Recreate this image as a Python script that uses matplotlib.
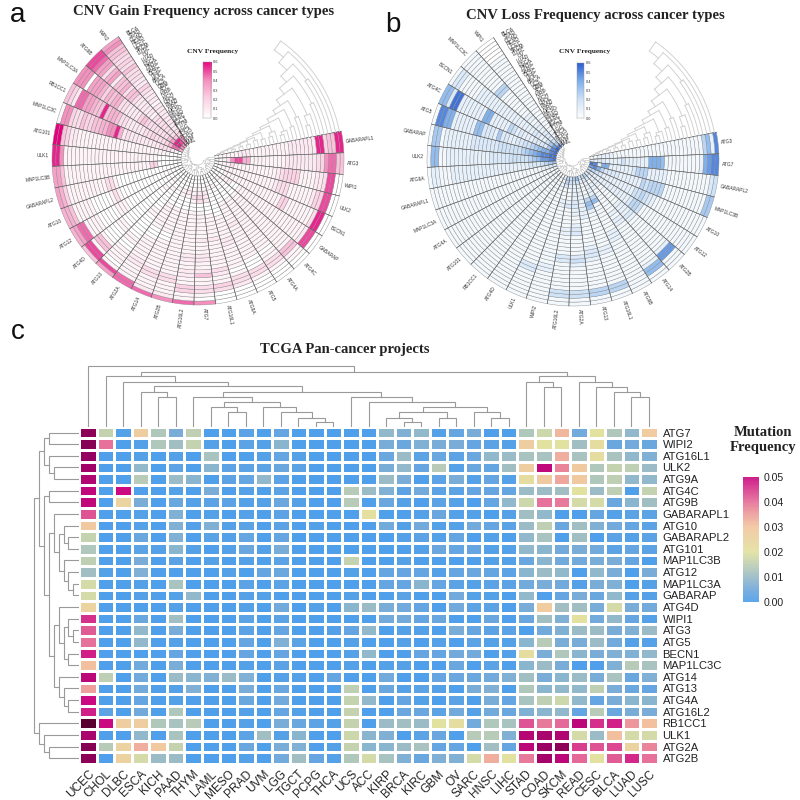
import numpy as np
import matplotlib
matplotlib.use('Agg')
import matplotlib.pyplot as plt
from matplotlib.colors import LinearSegmentedColormap, Normalize

# ---------- panel c data ----------
cancers = ['UCEC','CHOL','DLBC','ESCA','KICH','PAAD','THYM','LAML','MESO','PRAD','UVM','LGG','TGCT','PCPG','THCA','UCS','ACC',
           'KIRP','BRCA','KIRC','GBM','OV','SARC','HNSC','LIHC','STAD','COAD','SKCM','READ','CESC','BLCA','LUAD','LUSC']
mut_genes = ['ATG7','WIPI2','ATG16L1','ULK2','ATG9A','ATG4C','ATG9B','GABARAPL1','ATG10','GABARAPL2','ATG101','MAP1LC3B','ATG12',
             'MAP1LC3A','GABARAP','ATG4D','WIPI1','ATG3','ATG5','BECN1','MAP1LC3C','ATG14','ATG13','ATG4A','ATG16L2','RB1CC1','ULK1','ATG2A','ATG2B']
# mutation frequency x 1000
mut_freq = [
 [62,16,1,27,13,6,15,0,0,2,0,3,0,0,0,0,0,9,7,9,1,3,6,0,0,13,17,32,5,20,13,9,28],
 [63,40,0,1,13,11,16,1,0,2,1,8,0,0,0,0,0,6,4,7,6,6,3,2,1,27,20,20,11,22,4,5,4],
 [60,0,0,1,0,1,0,12,0,0,1,3,1,0,0,0,0,4,10,2,4,2,4,9,10,12,12,33,12,22,12,9,7],
 [58,0,0,9,0,2,0,8,2,2,2,4,2,0,0,0,0,6,9,3,14,1,4,3,11,27,52,38,29,13,16,15,10],
 [55,0,0,14,0,10,8,0,2,3,9,2,0,0,0,0,0,10,6,0,2,6,1,3,1,22,29,34,29,13,15,9,9],
 [52,0,50,0,0,1,0,6,0,1,0,2,0,0,0,14,10,7,2,5,2,2,3,3,3,10,10,11,20,10,15,0,16],
 [52,0,25,6,0,4,1,2,2,1,1,4,1,0,0,14,0,4,1,0,2,1,0,3,9,17,40,39,18,18,4,8,11],
 [43,0,0,1,0,7,0,1,0,1,0,2,0,0,0,0,21,0,0,1,4,1,1,0,1,11,9,0,0,3,1,2,2],
 [29,0,0,1,0,7,1,7,1,2,0,2,0,1,0,0,0,5,1,5,1,1,5,3,2,10,15,4,11,7,5,3,2],
 [16,0,0,4,0,7,0,2,1,3,0,3,0,0,0,0,0,0,1,2,1,3,0,1,0,9,12,0,11,0,2,1,2],
 [13,0,0,2,1,8,1,0,1,4,1,6,0,0,0,0,0,0,0,1,4,3,3,1,1,9,8,5,6,5,2,3,2],
 [15,0,0,6,0,2,0,1,0,1,0,2,0,0,0,16,0,0,1,0,0,0,0,1,1,4,8,5,5,6,6,3,0],
 [11,1,0,7,0,0,0,0,1,0,3,4,0,0,0,1,0,3,3,3,1,3,4,3,2,8,10,9,0,9,6,0,6],
 [18,0,0,1,0,12,0,0,0,2,0,2,0,0,0,0,0,3,3,8,3,2,1,2,2,5,6,5,1,6,7,0,1],
 [18,0,0,1,0,1,9,0,0,1,1,0,0,0,0,1,0,0,2,0,0,5,1,1,0,9,0,3,6,4,9,1,1],
 [25,0,0,0,0,1,0,0,0,1,0,5,0,1,0,8,10,6,5,3,0,5,2,2,0,6,28,11,11,6,18,6,5],
 [46,0,0,4,0,11,0,0,0,2,0,2,0,0,0,0,0,5,5,3,4,0,0,4,0,4,11,7,21,5,9,3,1],
 [42,0,0,9,0,6,0,0,0,2,0,3,0,0,1,3,9,0,1,1,0,6,3,2,2,0,5,7,10,10,6,7,10],
 [40,0,0,9,0,1,0,0,0,3,0,7,2,0,0,1,0,0,1,0,1,0,2,1,1,8,14,6,6,10,5,1,1],
 [48,0,0,0,0,3,0,0,0,3,0,3,0,0,0,1,9,0,0,3,3,5,5,0,1,22,6,13,8,6,7,7,9],
 [31,0,0,5,0,6,0,0,0,1,0,2,0,0,0,1,0,1,1,0,0,4,0,2,0,8,10,6,0,0,7,14,12],
 [53,15,0,5,0,10,8,7,10,7,0,1,1,0,3,0,0,5,0,0,3,4,4,5,7,11,6,8,10,6,12,4,7],
 [35,0,0,5,0,1,7,0,0,6,0,4,0,0,0,15,0,4,1,2,1,0,6,7,0,13,8,9,9,15,6,4,3],
 [50,0,0,3,0,1,0,0,0,4,0,5,0,0,0,16,9,0,3,1,0,2,0,6,3,12,15,17,9,3,6,8,8],
 [48,2,0,5,0,13,0,0,0,1,0,3,1,0,0,16,0,0,4,4,2,5,1,5,4,7,8,9,3,14,4,6,6],
 [72,50,27,27,13,12,14,0,0,1,0,6,4,2,1,16,0,10,11,10,20,22,5,13,12,43,39,41,53,46,48,36,31],
 [56,0,0,9,0,12,0,0,0,2,11,1,8,0,0,17,8,7,0,2,4,0,14,14,7,54,56,55,18,10,31,18,18],
 [63,14,26,33,29,16,0,0,0,4,0,6,7,0,1,16,8,8,10,12,3,3,0,11,3,53,59,62,45,43,44,26,38],
 [62,0,26,18,10,10,0,0,0,1,0,5,11,3,1,13,18,12,7,4,7,7,18,33,20,39,57,53,41,21,42,47,40],
]
# dendrograms: (height, child, child); leaves are column / row indices
col_a = (35, 3, (30, 4, 5))
col_b1 = (30, 6, (25, (20, 7, (15, 8, 9)), (20, 10, (15, 11, (9, 12, (5, 13, 14))))))
col_b2 = (30, 15, (25, 16, (20, (15, (9, 17, (5, 18, 19)), (9, 20, 21)), (15, 22, (9, 23, 24)))))
col_left = (51, 1, (45, 2, (41, col_a, (35, col_b1, col_b2))))
col_right = (51, (45, 25, (40, 26, 27)), (45, 28, (40, 29, (35, 30, (30, 31, 32)))))
col_tree = (61, 0, (55, col_left, col_right))

row_x = (25, 7, (20, (15, 8, (11, 9, 10)), (15, 11, (11, 12, (6, 13, 14)))))
row_y = (25, (20, 15, (15, (11, 16, (6, 17, 18)), (11, 19, 20))), (20, 21, (15, 22, (11, 23, 24))))
row_top = (40, (35, (30, 0, 1), (30, 2, (25, 3, 4))), (35, (30, 5, 6), (30, row_x, row_y)))
row_tree = (45, row_top, (40, 25, (35, 26, (30, 27, 28))))

# ---------- panels a / b data (33 rings, outer to inner; units of 0.05) ----------
gain_genes = ['GABARAPL1','ATG3','WIPI1','ULK2','BECN1','GABARAP','ATG4C','ATG4A','ATG5','ATG9A','ATG16L1','ATG7','ATG16L2','ATG2B','ATG14',
              'ATG2A','ATG13','ATG4D','ATG12','ATG10','GABARAPL2','MAP1LC3B','ULK1','ATG101','MAP1LC3C','RB1CC1','MAP1LC3A','ATG9B','WIPI2']
loss_genes = ['ATG3','ATG7','GABARAPL2','MAP1LC3B','ATG10','ATG12','ATG2B','ATG14','ATG9B','ATG16L1','ATG13','ATG2A','ATG16L2','WIPI2','ULK1',
              'ATG4D','RB1CC1','ATG101','ATG4A','MAP1LC3A','GABARAPL1','ATG9A','ULK2','GABARAP','ATG5','ATG4C','BECN1','MAP1LC3C','WIPI1']
gain_freq = [
 [11,11,5,5,4,11,11,2,2,2,2,2,2,2,1,1,1,1,1,1,1,1,1,1,2,2,2,1,1,1,1,0,0],
 [5,5,9,9,8,4,3,2,2,2,2,2,2,2,2,1,1,1,1,1,1,1,1,1,6,6,10,10,8,3,1,1,0],
 [0,0,10,10,3,2,2,1,1,1,1,4,4,4,4,3,2,1,1,1,1,1,1,1,1,1,1,1,3,1,1,1,0],
 [0,0,10,10,4,4,2,1,1,1,1,1,1,3,3,3,2,1,1,1,1,1,1,1,1,1,1,1,1,1,1,0,0],
 [0,0,11,11,3,1,1,1,1,1,1,1,4,4,1,1,1,1,1,1,1,1,1,1,1,1,1,1,1,1,0,0,0],
 [0,0,10,10,2,1,1,1,1,1,1,1,1,1,1,1,1,1,1,1,1,1,1,1,1,0,0,2,1,1,0,0,0],
 [0,0,1,1,5,5,1,1,1,1,1,1,1,1,1,1,1,1,1,1,1,1,1,1,1,0,0,0,0,0,1,0,0],
 [0,0,0,1,3,3,1,1,0,1,1,1,1,1,1,1,1,1,1,1,1,1,1,1,1,0,0,0,0,0,1,0,0],
 [0,0,0,1,3,3,0,0,0,1,1,1,1,1,1,1,1,1,2,1,1,1,1,1,1,0,0,0,0,1,0,0,0],
 [0,0,0,2,3,3,1,0,1,1,1,1,1,1,2,2,1,1,1,1,1,1,0,0,0,0,0,0,0,1,0,0,0],
 [0,0,0,3,4,1,1,2,3,1,1,1,1,1,1,1,2,1,1,1,1,1,1,0,0,0,2,2,2,1,0,0,0],
 [8,0,1,3,3,1,1,5,2,1,1,2,2,1,1,1,2,1,1,1,1,1,1,1,0,0,3,4,2,1,1,0,0],
 [9,1,1,4,4,1,1,2,2,1,1,2,2,1,1,1,1,1,1,1,1,1,1,1,0,0,1,3,1,1,0,0,0],
 [8,2,1,1,1,3,3,1,1,1,1,1,1,1,1,1,1,1,1,1,1,1,1,1,0,0,0,1,2,1,0,0,0],
 [9,2,1,1,1,3,3,1,1,1,1,1,1,1,1,0,0,1,1,1,1,1,1,1,0,0,0,1,1,0,0,0,0],
 [9,9,1,1,1,1,2,2,1,1,1,1,1,1,0,0,0,1,1,1,1,1,1,1,0,0,0,0,1,0,0,0,0],
 [7,10,1,0,1,1,1,1,0,0,1,1,0,0,0,0,0,0,0,1,1,0,0,0,0,0,0,1,0,0,0,0,0],
 [5,10,10,1,5,5,1,0,0,0,0,1,1,0,0,0,0,0,0,0,0,0,0,0,0,0,1,0,0,1,0,0,0],
 [6,7,9,9,1,1,1,1,0,0,0,0,0,1,1,1,0,0,0,0,0,0,0,0,0,0,0,0,0,0,0,0,0],
 [6,6,5,1,1,1,1,1,0,0,0,0,0,1,3,1,0,0,0,0,0,0,0,0,0,0,0,0,0,1,0,0,0],
 [7,6,4,1,1,1,1,1,1,1,1,1,1,3,3,1,0,0,0,0,0,0,0,0,0,0,0,0,0,0,0,0,0],
 [7,7,5,1,1,1,1,1,1,1,1,1,1,1,1,1,1,1,1,1,1,1,1,1,1,4,4,0,0,0,0,0,0],
 [11,11,8,1,1,1,1,1,1,1,1,1,1,1,1,1,1,1,1,1,1,1,1,1,1,1,1,0,0,0,0,0,0],
 [12,12,5,4,2,2,1,1,1,1,1,1,1,1,1,1,1,1,1,1,1,1,1,1,1,1,1,1,1,1,0,0,0],
 [1,8,8,4,3,3,5,4,4,5,5,6,6,8,8,11,6,2,3,2,2,2,2,2,2,2,2,3,3,3,2,1,0],
 [5,4,2,9,9,7,7,6,5,5,11,5,6,6,5,3,3,2,2,2,2,2,3,3,4,3,3,3,4,6,9,9,6],
 [8,8,8,0,7,7,7,6,4,6,5,6,6,3,3,2,2,2,2,4,5,4,3,3,3,3,3,3,5,7,11,11,8],
 [10,10,9,7,7,3,6,7,2,5,5,6,3,5,5,3,2,2,2,2,2,1,3,3,3,3,3,3,3,5,11,10,7],
 [7,8,5,5,4,3,4,3,5,3,3,3,2,2,4,3,2,2,2,1,2,2,2,2,2,2,2,2,3,4,7,8,5],
]
loss_freq = [
 [10,2,7,5,1,1,1,1,1,1,1,1,1,1,1,1,1,1,1,1,1,1,1,1,1,1,1,2,2,2,2,1,1],
 [10,10,9,8,2,1,1,1,1,1,1,1,1,1,7,8,8,8,2,2,2,2,2,2,4,2,2,2,2,3,3,2,2],
 [4,3,1,1,1,1,1,1,1,1,1,1,1,2,2,2,2,2,5,5,5,3,2,2,2,2,2,2,8,8,2,10,11],
 [6,6,1,1,1,1,1,1,1,1,1,1,1,5,5,5,5,4,5,2,2,2,2,2,2,3,3,3,3,5,8,10,9],
 [1,1,1,1,1,1,1,1,1,1,1,1,1,1,2,3,4,5,4,4,2,2,2,2,2,2,2,2,2,3,4,5,5],
 [1,1,1,1,1,1,1,1,1,1,1,1,1,1,1,1,4,5,5,3,2,2,2,2,2,2,2,2,2,2,2,3,4],
 [1,1,1,9,9,2,1,1,1,1,1,1,1,1,1,1,2,3,2,2,2,2,1,1,1,1,1,1,2,2,2,2,3],
 [1,1,7,7,2,1,1,1,1,1,1,1,1,1,1,1,1,2,2,1,2,1,1,1,1,1,1,1,2,2,1,3,5],
 [1,1,1,1,1,1,1,1,1,1,1,1,1,1,2,2,2,1,1,1,1,1,1,1,1,7,5,2,2,2,2,3,5],
 [1,1,5,5,1,1,1,1,1,1,1,1,2,2,1,1,1,1,1,1,1,1,1,2,6,7,5,2,1,1,1,2,3],
 [1,1,5,5,1,1,1,1,1,1,1,2,3,3,2,1,1,1,1,1,1,1,2,2,2,2,2,2,2,2,2,4,7],
 [1,1,4,4,1,1,1,1,1,1,2,4,3,1,1,1,1,1,3,3,2,1,1,2,2,3,3,2,2,2,2,4,6],
 [1,1,4,4,1,1,1,1,1,1,1,3,3,1,1,1,1,1,2,2,1,1,1,1,1,3,2,1,1,1,2,4,4],
 [1,1,1,1,1,1,1,1,2,2,1,1,1,1,1,1,1,1,1,1,1,1,1,1,1,2,2,1,1,1,3,5,5],
 [1,1,1,1,1,1,1,3,3,1,1,1,1,1,1,1,1,1,1,1,1,1,1,1,1,1,1,1,1,1,2,2,2],
 [1,1,1,1,1,1,1,1,1,1,1,1,1,1,1,1,1,1,1,1,1,1,1,1,1,1,1,1,1,1,1,1,1],
 [1,1,1,1,1,1,1,1,1,1,1,1,1,1,1,1,1,1,1,1,1,1,1,1,1,1,1,1,1,1,1,1,1],
 [1,1,1,1,1,1,1,1,1,1,1,1,1,1,1,1,1,1,1,1,1,1,1,1,1,1,1,1,1,1,1,1,1],
 [1,1,1,1,1,1,1,1,1,1,1,1,1,1,1,1,1,1,1,1,1,1,1,1,1,1,1,1,1,1,1,1,1],
 [1,1,1,1,1,1,1,1,1,1,1,1,1,1,1,1,1,1,1,1,1,1,1,1,1,1,1,1,1,1,1,1,2],
 [1,1,1,1,1,1,1,1,1,1,1,1,1,1,1,1,1,1,1,1,1,1,1,1,1,1,1,1,1,2,2,3,3],
 [1,2,2,1,1,1,2,2,2,2,2,2,2,2,2,2,2,2,2,2,2,2,2,2,2,2,3,3,3,4,5,6,7],
 [1,7,7,1,1,2,2,2,2,2,2,2,2,2,2,2,3,3,3,3,3,4,4,4,4,4,5,6,7,9,9,10,11],
 [1,6,6,1,2,2,2,2,2,2,2,3,3,3,3,3,3,3,4,4,4,4,4,4,5,6,7,8,9,10,10,11,11],
 [1,10,10,8,8,2,2,2,2,2,2,7,7,3,3,3,2,6,3,3,2,2,3,3,4,4,5,6,7,8,8,10,11],
 [7,7,3,11,11,2,2,2,2,2,2,2,8,8,2,2,2,2,2,5,4,2,3,2,2,2,3,3,3,3,6,10,11],
 [1,3,3,1,1,1,1,1,2,2,2,2,2,2,2,2,2,2,2,2,2,2,2,2,2,3,3,2,2,4,6,9,12],
 [1,1,1,1,1,1,1,1,1,1,1,5,5,1,1,1,1,1,1,1,1,2,2,1,2,2,2,3,3,3,4,6,10],
 [0,0,0,0,0,1,1,1,1,1,1,1,1,1,1,1,1,1,1,1,1,1,1,1,1,1,1,1,1,1,2,3,6],
]
ring_cancers = ['BLCA','STAD','COAD','READ','UCEC','SKCM','LUSC','OV','LUAD','ESCA','HNSC','SARC','CESC','LIHC','BRCA','UCS','GBM',
                'ACC','KIRP','KICH','CHOL','PAAD','KIRC','MESO','PRAD','DLBC','TGCT','THYM','LGG','THCA','PCPG','UVM','LAML']
# dendrogram over rings; height in degrees beyond the last sector edge
ring_t1 = (8, (5, 25, 26), (7, (4, 27, 28), (6, 29, (4, 30, (3, 31, 32)))))
ring_t2 = (14, (9, 16, (6, 17, 18)), (12, (6, 19, 20), (10, (7, 21, 22), (9, (5, 23, 24), ring_t1))))
ring_t3 = (26, (11, 6, (6, 7, 8)), (22, (12, 9, 10), (19, (8, 11, 12), (16, (7, 13, (5, 14, 15)), ring_t2))))
ring_tree = (44, 0, (39, 1, (34, (25, 2, 3), (30, (15, 4, 5), ring_t3))))
gene_g1 = (9, (7, 0, (5, 1, 2)), (7, (5, 3, 4), (6, 5, (4, 6, 7))))
gene_g2 = (8, (6, 8, (4, 9, 10)), (6, (4, 11, 12), (5, 13, 14)))
gene_g3 = (7, (5, 15, 16), (5, 17, (3, 18, 19)))
gene_g4 = (7, (6, 20, (4, 21, 22)), (6, (4, 23, 24), (5, 25, (4, 26, (3, 27, 28)))))
gene_tree = (11, gene_g1, (10, gene_g2, (9, gene_g3, gene_g4)))
cbar_ticks = [0.0, 0.1, 0.2, 0.3, 0.4, 0.5, 0.6]
mut_ticks = [0.00, 0.01, 0.02, 0.03, 0.04, 0.05]

# ---------- style ----------
sans = ['Liberation Sans', 'DejaVu Sans']
serif = ['Liberation Serif', 'DejaVu Serif']
W = 800.0
fig = plt.figure(figsize=(8, 8), dpi=100, facecolor='white')

def rect(x0, y0, x1, y1):
    return [x0 / W, 1 - y1 / W, (x1 - x0) / W, (y1 - y0) / W]

def draw_tree(node, emit):
    """Return (position, height); emit(pos_a, h_a, pos_b, h_b, h) draws one link."""
    if not isinstance(node, tuple):
        return node + 0.5, 0.0
    h, a, b = node
    pa, ha = draw_tree(a, emit)
    pb, hb = draw_tree(b, emit)
    emit(pa, ha, pb, hb, h)
    return (pa + pb) / 2, h

# ---------- circular panels ----------
SPAN_START = 11.0
SPAN_END = 123.0
N_S = 29
N_R = 33
R_OUT = 146.0
R_IN = 17.0
R_AX = 178.0
SEC = (360 - (SPAN_END - SPAN_START)) / N_S
RW = (R_OUT - R_IN) / N_R

def circular(cx, cy, genes, freq, cmap, fsz=3.5):
    ax = fig.add_axes(rect(cx - R_AX, cy - R_AX, cx + R_AX, cy + R_AX), projection='polar')
    ax.set_facecolor('none')
    ax.set_axis_off()
    ax.set_ylim(0, R_AX)
    norm = Normalize(0, 0.6)
    for s, row in enumerate(freq):
        th = np.deg2rad(SPAN_START - (s + 0.5) * SEC)
        vals = (list(row) + [1] * N_R)[:N_R]
        for r, v in enumerate(vals):
            ax.bar(th, RW, width=np.deg2rad(SEC), bottom=R_OUT - (r + 1) * RW,
                   color=cmap(norm(v * 0.05)), edgecolor='#8c8c8c', linewidth=0.3)
        a = SPAN_START - (s + 0.5) * SEC
        a360 = a % 360
        right = np.cos(np.deg2rad(a)) > 0
        ax.text(np.deg2rad(a), R_OUT + 3, genes[s], fontsize=fsz, family=sans, color='#333333',
                rotation=a360 if right else a360 + 180, rotation_mode='anchor',
                ha='left' if right else 'right', va='center')
    # sector edges slightly stronger
    for s in range(N_S + 1):
        t = np.deg2rad(SPAN_START - s * SEC)
        ax.plot([t, t], [R_IN, R_OUT], color='#555555', lw=0.4)
    # ring dendrogram in the open sector
    col = '#cfcfcf'
    def ring_r(p):
        return R_OUT - p * RW
    def emit(pa, ha, pb, hb, h):
        ta = np.deg2rad(SPAN_START + h)
        for p, hc in ((pa, ha), (pb, hb)):
            arc = np.deg2rad(np.linspace(SPAN_START + hc, SPAN_START + h, 24))
            ax.plot(arc, np.full(24, ring_r(p)), color=col, lw=0.65)
        ax.plot([ta, ta], [ring_r(pa), ring_r(pb)], color=col, lw=0.65)
    draw_tree(ring_tree, emit)
    # gene dendrogram in the hub
    def gene_t(p):
        return np.deg2rad(SPAN_START - p * SEC)
    def emit2(pa, ha, pb, hb, h):
        rr = R_IN - h
        for p, hc in ((pa, ha), (pb, hb)):
            ax.plot([gene_t(p), gene_t(p)], [R_IN - hc, rr], color='#bdbdbd', lw=0.45)
        arc = np.linspace(gene_t(pa), gene_t(pb), 24)
        ax.plot(arc, np.full(24, rr), color='#bdbdbd', lw=0.45)
    draw_tree(gene_tree, emit2)
    # cancer labels
    for r, name in enumerate(ring_cancers):
        rr = R_OUT - (r + 0.5) * RW
        ang = 117.0 - r * 0.1
        ax.text(np.deg2rad(ang), rr, name, fontsize=3.7, family=sans, color='#222222',
                rotation=ang - 90, rotation_mode='anchor', ha='center', va='center')
    return ax

cmap_gain = LinearSegmentedColormap.from_list('gain', ['#ffffff', '#fbd3e4', '#f48fbe', '#e6007e'])
cmap_loss = LinearSegmentedColormap.from_list('loss', ['#ffffff', '#cfe3f8', '#7fb0ec', '#2c5fd0'])
circular(198, 159, gain_genes, gain_freq, cmap_gain)
circular(573, 160, loss_genes, loss_freq, cmap_loss)

def small_cbar(x0, y0, x1, y1, cmap):
    cax = fig.add_axes(rect(x0, y0, x1, y1))
    cax.imshow(np.linspace(0.6, 0, 200)[:, None], aspect='auto', cmap=cmap, vmin=0, vmax=0.6, extent=[0, 1, 0, 0.6])
    cax.set_xticks([])
    cax.yaxis.tick_right()
    cax.set_yticks(cbar_ticks, [f'{t:.1f}' for t in cbar_ticks], fontsize=2.8, family=sans, color='#333333')
    cax.tick_params(axis='y', length=0, pad=1.5)
    for sp in cax.spines.values():
        sp.set_linewidth(0.3)
        sp.set_color('#999999')

small_cbar(203, 62, 211, 118, cmap_gain)
small_cbar(577, 63, 584, 118, cmap_loss)

def ftext(x, y, s, **kw):
    fig.text(x / W, 1 - y / W, s, **kw)

ftext(204, 12, 'CNV Gain Frequency across cancer types', family=serif, weight='bold', fontsize=10.6, ha='center', va='center', color='#222222')
ftext(595, 15, 'CNV Loss Frequency across cancer types', family=serif, weight='bold', fontsize=10.6, ha='center', va='center', color='#222222')
ftext(345, 350, 'TCGA Pan-cancer projects', family=serif, weight='bold', fontsize=10.5, ha='center', va='center', color='#222222')
ftext(213, 52, 'CNV Frequency', family=serif, weight='bold', fontsize=5.3, ha='center', va='center', color='#222222')
ftext(585, 51, 'CNV Frequency', family=serif, weight='bold', fontsize=5.3, ha='center', va='center', color='#222222')
ftext(18, 15, 'a', family=sans, fontsize=20, ha='center', va='center', color='#111111')
ftext(393, 25, 'b', family=sans, fontsize=20, ha='center', va='center', color='#111111')
ftext(18, 332, 'c', family=sans, fontsize=20, ha='center', va='center', color='#111111')

# ---------- heatmap ----------
HX0, HX1, HY0, HY1 = 79.3, 657.7, 426.7, 764.0
stops = [(0, '#4f9fea'), (5, '#72aadc'), (10, '#9bbcc6'), (15, '#bfcfb4'), (20, '#e2e2a0'), (30, '#f3c6a0'),
         (35, '#ee9f9c'), (40, '#e6719a'), (50, '#cb0a82'), (60, '#960060'), (75, '#4a0025')]
cmap_mut = LinearSegmentedColormap.from_list('mut', [(v / 75, c) for v, c in stops])
Z = np.array(mut_freq, dtype=float) / 1000
ax = fig.add_axes(rect(HX0, HY0, HX1, HY1))
ax.pcolormesh(np.arange(len(cancers) + 1), np.arange(len(mut_genes) + 1), Z, cmap=cmap_mut, vmin=0, vmax=0.075,
              edgecolors='white', linewidth=0.9)
ax.set_ylim(len(mut_genes), 0)
ax.set_xlim(0, len(cancers))
ax.set_xticks(np.arange(len(cancers)) + 0.5, cancers, rotation=45, ha='right', va='top', rotation_mode='anchor',
              fontsize=8.6, family=sans, color='#222222')
ax.yaxis.tick_right()
ax.set_yticks(np.arange(len(mut_genes)) + 0.5, mut_genes, fontsize=8.1, family=sans, color='#222222')
ax.tick_params(axis='both', length=0)
ax.tick_params(axis='y', pad=3.5)
ax.tick_params(axis='x', pad=3)
for sp in ax.spines.values():
    sp.set_visible(False)

DC = '#9a9a9a'
axt = fig.add_axes(rect(HX0, HY0 - 64, HX1, HY0))
axt.set_xlim(0, len(cancers))
axt.set_ylim(0, 64)
axt.axis('off')
def emit_top(pa, ha, pb, hb, h):
    axt.plot([pa, pa, pb, pb], [ha, h, h, hb], color=DC, lw=0.8, solid_joinstyle='miter')
draw_tree(col_tree, emit_top)

axl = fig.add_axes(rect(HX0 - 48, HY0, HX0, HY1))
axl.set_ylim(len(mut_genes), 0)
axl.set_xlim(48, 0)
axl.axis('off')
def emit_left(pa, ha, pb, hb, h):
    axl.plot([ha, h, h, hb], [pa, pa, pb, pb], color=DC, lw=0.8, solid_joinstyle='miter')
draw_tree(row_tree, emit_left)

cb = fig.add_axes(rect(743, 477, 759, 602))
cb.imshow(np.linspace(0.05, 0, 200)[:, None], aspect='auto', cmap=cmap_mut, vmin=0, vmax=0.075, extent=[0, 1, 0, 0.05], alpha=0.92)
cb.set_xticks([])
cb.yaxis.tick_right()
cb.set_yticks(mut_ticks, [f'{t:.2f}' for t in mut_ticks], fontsize=7.6, family=sans, color='#222222')
cb.tick_params(axis='y', length=0, pad=3)
for sp in cb.spines.values():
    sp.set_visible(False)
ftext(763, 440, 'Mutation\nFrequency', family=serif, weight='bold', fontsize=10.5, ha='center', va='center', color='#222222', linespacing=1.15)

fig.savefig('out.png', dpi=100, facecolor='white')
